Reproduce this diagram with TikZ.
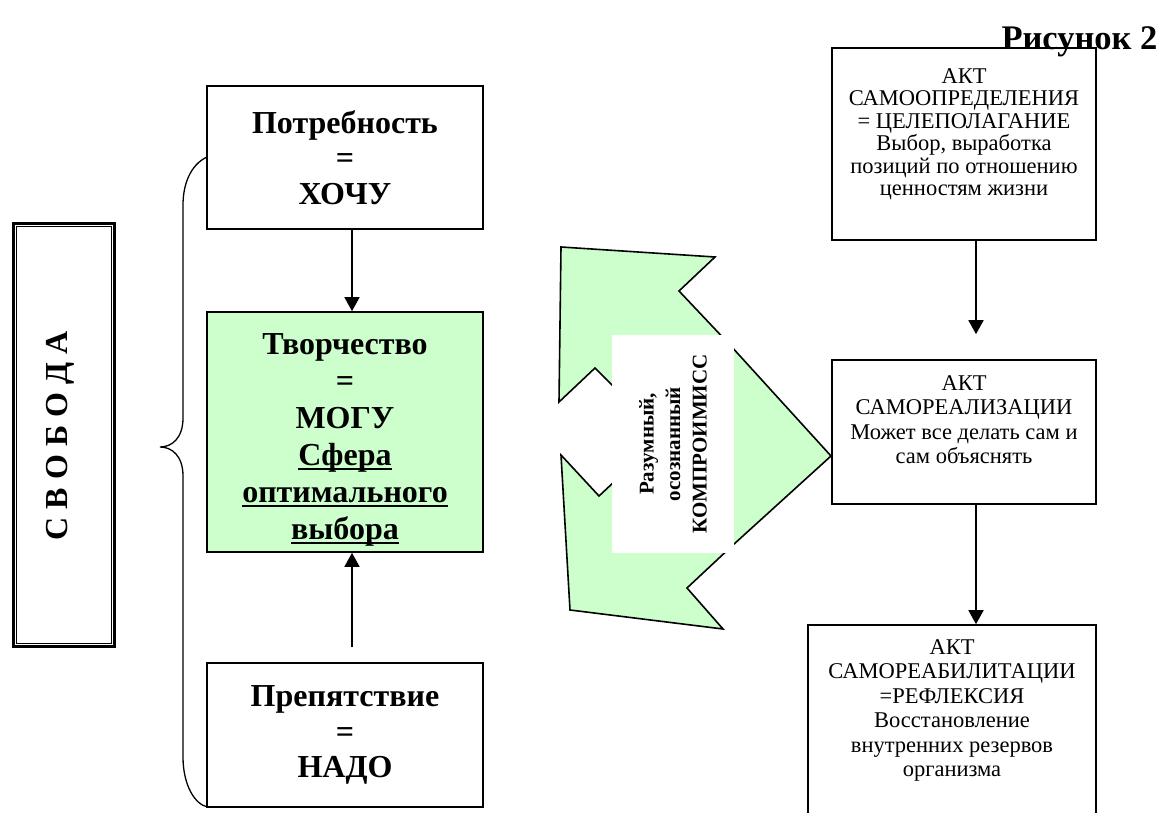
\documentclass[tikz,border=0pt]{standalone}
\usepackage{fontspec}
\setmainfont{Liberation Serif}
\newcommand{\zoneline}[1]{\setbox0\hbox{#1}\leavevmode\rlap{\rule[-5pt]{\wd0}{2.2pt}}\box0}
\usetikzlibrary{arrows.meta,positioning}
\definecolor{zonegreen}{RGB}{204,255,204}

\begin{document}
\begin{tikzpicture}[
    x=1pt, y=-1pt,
    side box/.style={rectangle, draw, line width=1.6pt, minimum width=276pt, inner sep=0pt, align=center, font=\bfseries\fontsize{32}{35.5}\selectfont},
    creative box/.style={side box, fill=zonegreen, font=\bfseries\fontsize{32}{37}\selectfont},
    act box/.style={rectangle, draw, line width=1.6pt, inner sep=0pt},
    act text/.style={align=center, inner sep=0pt, font=\fontsize{22.5}{24.5}\selectfont},
    step arrow/.style={-{Triangle[width=15pt,length=14pt]}, line width=1.6pt},
    compromise arrow/.style={draw, line width=1.6pt, fill=zonegreen, line join=miter},
    brace line/.style={line width=1.3pt}
]
\useasboundingbox (0,0) rectangle (1171,813);

% Title
\node[anchor=base east, font=\bfseries\fontsize{34.5}{40}\selectfont] (title) at (1161,50) {Рисунок 2};

% Freedom frame
\node[rectangle, draw, line width=3pt, minimum width=101pt, minimum height=422pt, inner sep=0pt] (freedom) at (64,435) {};
\draw[line width=1pt] ([xshift=4.5pt,yshift=-4.5pt]freedom.north west) rectangle ([xshift=-4.5pt,yshift=4.5pt]freedom.south east);
\node[rotate=90, font=\bfseries\fontsize{32}{38}\selectfont] (freedomtext) at (60,436) {С~В~О~Б~О~Д~А};

% Brace
\draw[brace line] (207,157) .. controls (190,165) and (183,185) .. (183,205) -- (183,418)
    .. controls (183,438) and (172,447) .. (160,447)
    .. controls (172,447) and (183,456) .. (183,476) -- (183,757)
    .. controls (183,785) and (195,805) .. (208,807);

% Left column
\node[side box, minimum height=143pt] (want) at (345,157.5) {Потребность\\=\\ХОЧУ};
\node[creative box, minimum height=240pt] (can) at (345,432) {\rule{0pt}{36pt}Творчество\\=\\МОГУ\\\zoneline{Сфера}\\\zoneline{оптимального}\\\zoneline{выбора}};
\node[side box, minimum height=144pt] (must) at (345,735) {Препятствие\\=\\НАДО};

\draw[step arrow] ([xshift=7pt]want.south) -- ([xshift=7pt]can.north);
\draw[step arrow, shorten <=15pt] ([xshift=7pt]must.north) -- ([xshift=7pt]can.south);

% Compromise
\draw[compromise arrow] (561,247) -- (715,257) -- (679,291) -- (730,345) -- (831,456)
    -- (733,545) -- (687,588) -- (723,629) -- (570,610) -- (561,455) -- (599,496)
    -- (630,467) -- (630,403) -- (595,368) -- (559,402) -- cycle;
\node[rotate=90, fill=white, minimum width=218pt, minimum height=122pt, inner sep=0pt, align=center,
    font=\bfseries\fontsize{21}{26.5}\selectfont] (deal) at (673,444) {Разумный,\\осознанный\\КОМПРОИМИСС};

% Right column
\node[act box, minimum width=264pt, minimum height=192pt] (define) at (964,144) {};
\node[act box, minimum width=264pt, minimum height=144pt] (realize) at (964,432) {};
\node[act box, minimum width=288pt, minimum height=192pt] (restore) at (952,721) {};

\node[act text, font=\fontsize{22.5}{22.5}\selectfont, below=21pt of define.north] (definetext) {АКТ\\САМООПРЕДЕЛЕНИЯ\\= ЦЕЛЕПОЛАГАНИЕ\\Выбор, выработка\\позиций по отношению\\ценностям жизни};
\node[act text, below=16pt of realize.north] (realizetext) {АКТ\\САМОРЕАЛИЗАЦИИ\\Может все делать сам и\\сам объяснять};
\node[act text, below=15pt of restore.north] (restoretext) {АКТ\\САМОРЕАБИЛИТАЦИИ\\=РЕФЛЕКСИЯ\\Восстановление\\внутренних резервов\\организма};

\draw[step arrow, shorten >=25pt] ([xshift=12pt]define.south) -- ([xshift=12pt]realize.north);
\draw[step arrow] ([xshift=12pt]realize.south) -- ([xshift=24pt]restore.north);

\end{tikzpicture}
\end{document}
